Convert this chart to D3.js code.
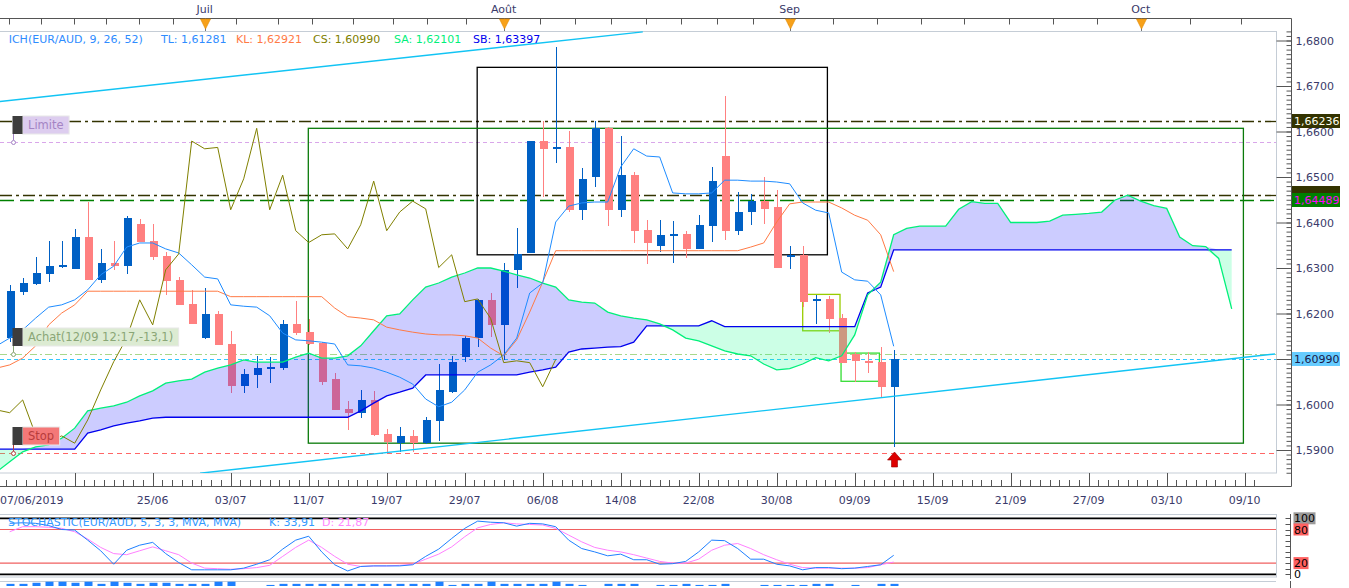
<!DOCTYPE html>
<html>
<head>
<meta charset="utf-8">
<title>EUR/AUD Ichimoku</title>
<script src="https://cdn.jsdelivr.net/npm/d3@7"></script>
<style>
  body { margin: 0; background: #fff; overflow: hidden; }
  svg { display: block; font-family: 'DejaVu Sans', Verdana, sans-serif; font-size: 11px; }
</style>
</head>
<body>
<script>
const w = 1349;
const h = 588;

// daily candles EUR/AUD, 10/06 -> 12/09/2019
const dates = ['10/06','11/06','12/06','13/06','14/06','17/06','18/06','19/06','20/06','21/06',
  '24/06','25/06','26/06','27/06','28/06','01/07','02/07','03/07','04/07','05/07',
  '08/07','09/07','10/07','11/07','12/07','15/07','16/07','17/07','18/07','19/07',
  '22/07','23/07','24/07','25/07','26/07','29/07','30/07','31/07','01/08','02/08',
  '05/08','06/08','07/08','08/08','09/08','12/08','13/08','14/08','15/08','16/08',
  '19/08','20/08','21/08','22/08','23/08','26/08','27/08','28/08','29/08','30/08',
  '02/09','03/09','04/09','05/09','06/09','09/09','10/09','11/09','12/09'];
const open = [1.6147,1.6248,1.6265,1.6287,1.6302,1.6298,1.6368,1.6274,1.6310,1.6304,
  1.6396,1.6359,1.6326,1.6274,1.6221,1.6147,1.6200,1.6133,1.6041,1.6065,
  1.6079,1.6081,1.6177,1.6159,1.6135,1.6056,1.5991,1.5982,1.6010,1.5935,
  1.5915,1.5931,1.5915,1.5964,1.6028,1.6105,1.6146,1.6230,1.6175,1.6296,
  1.6334,1.6579,1.6562,1.6566,1.6428,1.6499,1.6607,1.6428,1.6504,1.6384,
  1.6349,1.6372,1.6375,1.6342,1.6393,1.6546,1.6382,1.6422,1.6447,1.6433,
  1.6326,1.6329,1.6228,1.6232,1.6191,1.6111,1.6096,1.6094,1.6039];
const high = [1.6263,1.6277,1.6324,1.6359,1.6359,1.6386,1.6444,1.6341,1.6359,1.6414,
  1.6408,1.6397,1.6336,1.6280,1.6252,1.6257,1.6206,1.6161,1.6078,1.6107,
  1.6104,1.6186,1.6228,1.6188,1.6138,1.6069,1.6008,1.6032,1.6030,1.5946,
  1.5950,1.5944,1.5973,1.6089,1.6107,1.6151,1.6231,1.6244,1.6312,1.6387,
  1.6580,1.6623,1.6785,1.6601,1.6520,1.6623,1.6609,1.6590,1.6510,1.6406,
  1.6406,1.6403,1.6382,1.6417,1.6523,1.6677,1.6468,1.6463,1.6499,1.6471,
  1.6349,1.6349,1.6241,1.6239,1.6200,1.6116,1.6116,1.6127,1.6120];
const low = [1.6137,1.6241,1.6263,1.6270,1.6301,1.6297,1.6273,1.6266,1.6296,1.6287,
  1.6357,1.6318,1.6241,1.6219,1.6177,1.6144,1.6131,1.6026,1.6025,1.6037,
  1.6048,1.6076,1.6153,1.6131,1.6043,1.5988,1.5944,1.5971,1.5931,1.5896,
  1.5896,1.5896,1.5913,1.5920,1.6025,1.6094,1.6127,1.6149,1.6098,1.6255,
  1.6333,1.6457,1.6531,1.6424,1.6406,1.6477,1.6393,1.6413,1.6356,1.6308,
  1.6336,1.6310,1.6323,1.6341,1.6358,1.6362,1.6373,1.6395,1.6397,1.6300,
  1.6298,1.6215,1.6178,1.6158,1.6091,1.6049,1.6069,1.6015,1.5906];
const close = [1.6249,1.6266,1.6288,1.6304,1.6307,1.6368,1.6274,1.6310,1.6304,1.6410,
  1.6358,1.6325,1.6272,1.6219,1.6177,1.6200,1.6131,1.6041,1.6067,1.6080,
  1.6082,1.6177,1.6158,1.6133,1.6049,1.5988,1.5982,1.6010,1.5933,1.5918,
  1.5931,1.5915,1.5966,1.6032,1.6094,1.6146,1.6230,1.6175,1.6296,1.6331,
  1.6579,1.6562,1.6565,1.6428,1.6496,1.6607,1.6428,1.6504,1.6382,1.6356,
  1.6373,1.6375,1.6342,1.6395,1.6491,1.6382,1.6423,1.6447,1.6430,1.6301,
  1.6329,1.6226,1.6232,1.6189,1.6092,1.6096,1.6092,1.6039,1.6099];

// ichimoku lines, first value sits one bar before 10/06
const tenkan = [1.6129,1.6146,1.6164,1.6190,1.6214,1.6219,1.6230,1.6252,1.6285,1.6304,
  1.6346,1.6355,1.6355,1.6342,1.6333,1.6307,1.6280,1.6276,1.6219,1.6216,
  1.6214,1.6195,1.6157,1.6142,1.6140,1.6137,1.6133,1.6087,1.6085,1.6080,
  1.6071,1.6060,1.6045,1.6012,1.5995,1.6005,1.6032,1.6071,1.6087,1.6109,
  1.6146,1.6245,1.6267,1.6401,1.6436,1.6443,1.6445,1.6445,1.6522,1.6562,
  1.6546,1.6544,1.6465,1.6463,1.6463,1.6465,1.6493,1.6493,1.6491,1.6491,
  1.6489,1.6485,1.6443,1.6427,1.6421,1.6291,1.6274,1.6271,1.6241,1.6128];
const kijun = [1.6080,1.6087,1.6102,1.6129,1.6175,1.6201,1.6219,1.6249,1.6249,1.6249,
  1.6249,1.6249,1.6249,1.6249,1.6249,1.6249,1.6249,1.6249,1.6237,1.6237,
  1.6237,1.6237,1.6237,1.6237,1.6237,1.6237,1.6212,1.6193,1.6190,1.6186,
  1.6170,1.6164,1.6159,1.6155,1.6153,1.6153,1.6151,1.6146,1.6124,1.6107,
  1.6142,1.6203,1.6269,1.6338,1.6338,1.6338,1.6338,1.6338,1.6338,1.6338,
  1.6338,1.6338,1.6338,1.6338,1.6338,1.6338,1.6338,1.6338,1.6346,1.6355,
  1.6401,1.6441,1.6445,1.6445,1.6445,1.6432,1.6416,1.6405,1.6373,1.6292];
// senkou spans, from one bar before 10/06 to 26 bars after 12/09
const spanA = [1.5852,1.5874,1.5896,1.5907,1.5911,1.5926,1.5948,1.5986,1.5992,1.5997,
  1.6005,1.6019,1.6030,1.6047,1.6052,1.6056,1.6071,1.6080,1.6087,1.6098,
  1.6093,1.6093,1.6093,1.6104,1.6113,1.6102,1.6102,1.6107,1.6129,1.6162,
  1.6195,1.6199,1.6230,1.6258,1.6267,1.6280,1.6289,1.6300,1.6300,1.6293,
  1.6285,1.6278,1.6267,1.6258,1.6230,1.6225,1.6223,1.6203,1.6195,1.6190,
  1.6186,1.6177,1.6164,1.6146,1.6140,1.6129,1.6118,1.6111,1.6107,1.6089,
  1.6076,1.6079,1.6089,1.6103,1.6096,1.6107,1.6153,1.6241,1.6269,1.6373,
  1.6387,1.6392,1.6392,1.6392,1.6429,1.6446,1.6442,1.6442,1.6400,1.6400,
  1.6400,1.6403,1.6416,1.6418,1.6420,1.6423,1.6449,1.6460,1.6447,1.6437,
  1.6431,1.6368,1.6349,1.6347,1.6321,1.6210];
const spanB = [1.5902,1.5902,1.5902,1.5902,1.5902,1.5902,1.5902,1.5937,1.5944,1.5953,
  1.5959,1.5964,1.5970,1.5972,1.5972,1.5972,1.5972,1.5972,1.5972,1.5972,
  1.5972,1.5972,1.5972,1.5972,1.5972,1.5972,1.5972,1.5972,1.5986,1.6003,
  1.6019,1.6027,1.6036,1.6065,1.6065,1.6065,1.6065,1.6065,1.6065,1.6065,
  1.6065,1.6071,1.6076,1.6082,1.6115,1.6122,1.6124,1.6126,1.6127,1.6137,
  1.6173,1.6173,1.6173,1.6173,1.6173,1.6184,1.6171,1.6171,1.6171,1.6171,
  1.6171,1.6171,1.6171,1.6171,1.6171,1.6171,1.6171,1.6245,1.6258,1.6340,
  1.6340,1.6340,1.6340,1.6340,1.6340,1.6340,1.6340,1.6340,1.6340,1.6340,
  1.6340,1.6340,1.6340,1.6340,1.6340,1.6340,1.6340,1.6340,1.6340,1.6340,
  1.6340,1.6340,1.6340,1.6340,1.6340,1.6340];
const lagShift = 26;

const stochK = [91,92,91,87,80,79,61,42,18,43, 52,57,37,21,8,8,8,8,11,18,
  26,45,61,68,40,17,6,14,15,15, 15,17,32,45,64,82,95,93,92,86,
  91,90,85,61,46,40,33,36,26,26, 18,19,23,40,61,60,46,27,27,18,
  15,8,12,12,10,11,14,17,33.91];
const stochD = [76,85,85,84,82,76,63,48,37,35, 42,49,42,35,20,11,10,9,10,12,
  16,32,48,61,48,32,18,14,15,15, 16,18,27,36,49,67,83,89,92,90,
  89,88,82,70,58,48,43,40,35,29, 23,20,20,27,43,52,55,46,35,26,
  18,12,11,11,11,11,12,17,21.87];
const volume = [2,2,3,4,4,3,4,2,4,3, 2,3,3,2,2,2,4,4,0,0, 1,2,2,2,2,2,2,2,2,2,
  2,2,2,4,1,2,2,4,2,2, 2,2,4,2,1,0,2,2,2,0, 1,1,2,1,1,2,0,0,1,1,
  1,1,2,2,0,1,0,2,2];

// axis labels (bar index)
const dateTicks = [-1, 5, 11, 17, 23, 29, 35, 41, 47, 53, 59, 65, 71, 77, 83, 89, 95];
const dateLabels = ['07/06/2019', '', '25/06', '03/07', '11/07', '19/07', '29/07', '06/08', '14/08',
  '22/08', '30/08', '09/09', '15/09', '21/09', '27/09', '03/10', '09/10'];
const monthTicks = [15, 38, 60, 87];
const monthLabels = ['Juil', 'Août', 'Sep', 'Oct'];
const topTicks = [-0.08, 2.41, 4.92, 7.41, 9.93, 12.53, 14.93, 17.41, 20.6, 23.25, 26.4, 29.45, 32.1,
  35.1, 37.95, 40.8, 43.45, 46.25, 48.95, 51.64, 54.4, 57.2, 59.9, 63.3, 66.7, 70.1, 73.4,
  76.9, 80.25, 83.6, 87, 90.8, 94.7];
const stochTicks = [100, 80, 20, 0];

// legend
const legendNames = ['TL', 'KL', 'CS', 'SA', 'SB'];
const legendValues = [1.61281, 1.62921, 1.60990, 1.62101, 1.63397];

// horizontal levels
const levelPrices = [1.66236, 1.6460, 1.64489, 1.6576, 1.6110, 1.6099, 1.5893];
const markerText = ['Limite', 'Achat(12/09 12:17,-13,1)', 'Stop'];
const markerPrice = [1.6576, 1.6110, 1.5893];
const tagPrices = [1.66236, 1.6460, 1.64489, 1.6099];

// drawings: boxes [from bar, to bar, top price, bottom price]
const boxFrom = [35.96, 22.97, 61, 63.95];
const boxTo = [62.9, 94.9, 63.87, 66.9];
const boxTop = [1.6741, 1.6607, 1.6242, 1.6113];
const boxBottom = [1.6329, 1.5915, 1.6162, 1.6051];
// trend lines
const trendFrom = [-0.75, 14.64];
const trendTo = [48.7, 97.33];
const trendP0 = [1.6666, 1.5849];
const trendP1 = [1.6819, 1.6111];

const svg = d3.select('body').append('svg').attr('width', w).attr('height', h);

const x = d3.scaleLinear().domain([0, 94]).range([9.7, 1231.7]);
const y = d3.scaleLinear().domain([1.59, 1.68]).range([450, 40.5]);
const ys = d3.scaleLinear().domain([0, 100]).range([574.3, 518.3]);
const yv = d3.scaleLinear().domain([0, 4]).range([0, 4.3]);

const plotR = 1276;
const axisX = 1291.5;
const fmt4 = (v) => d3.format('.4f')(v).replace('.', ',');
const fmt5 = (v) => d3.format('.5f')(v).replace('.', ',');
const px = (i) => Math.round(x(i));

const defs = svg.append('defs');
defs.append('clipPath').attr('id', 'clipMain')
  .append('rect').attr('x', 0).attr('y', 31).attr('width', plotR).attr('height', 442);
defs.append('clipPath').attr('id', 'clipStoch')
  .append('rect').attr('x', 0).attr('y', 515).attr('width', plotR).attr('height', 62);

// ---- top axis (months)
svg.append('line').attr('x1', 0).attr('x2', axisX).attr('y1', 18.5).attr('y2', 18.5).attr('stroke', '#555');
svg.selectAll('.ttick').data(topTicks).enter().append('line')
  .attr('x1', (d) => px(d) + 0.5).attr('x2', (d) => px(d) + 0.5)
  .attr('y1', 18.5).attr('y2', 24.5).attr('stroke', '#555');
svg.selectAll('.mline').data(monthTicks).enter().append('line')
  .attr('x1', (d) => px(d) + 0.5).attr('x2', (d) => px(d) + 0.5)
  .attr('y1', 18.5).attr('y2', 32).attr('stroke', '#777');
svg.selectAll('.mtri').data(monthTicks).enter().append('path')
  .attr('d', (d) => `M${px(d) - 4.5},19L${px(d) + 5.5},19L${px(d) + 0.5},29Z`)
  .attr('fill', '#f7a11a').attr('stroke', '#e08a00').attr('stroke-width', 0.6);
svg.selectAll('.mlab').data(monthLabels).enter().append('text')
  .attr('x', (d, i) => x(monthTicks[i])).attr('y', 12.5)
  .attr('text-anchor', 'middle').attr('fill', '#3a3a6a').text((d) => d);

// ---- main frame
svg.append('rect').attr('x', -1).attr('y', 31.5).attr('width', plotR + 1.5).attr('height', 441.5)
  .attr('fill', 'none').attr('stroke', '#c5cdd6');

const main = svg.append('g').attr('clip-path', 'url(#clipMain)');

// ---- horizontal levels
const levelColor = ['#333300', '#333300', '#008000', '#d9a6ea', '#a9d88c', '#33c8ff', '#ff6666'];
const levelDash = ['12,4,3,4', '12,4,3,4', '14,6', '4,3', '7,3,2,3', '4,3', '5,4'];
main.selectAll('.lvl').data(levelPrices).enter().append('line')
  .attr('x1', 0).attr('x2', plotR)
  .attr('y1', (d) => Math.round(y(d)) + 0.5).attr('y2', (d) => Math.round(y(d)) + 0.5)
  .attr('stroke', (d, i) => levelColor[i])
  .attr('stroke-dasharray', (d, i) => levelDash[i])
  .attr('stroke-width', (d, i) => i < 3 ? 1.3 : 1);

// ---- drawn boxes
const boxColor = ['#000', '#0a7a0a', '#99cc00', '#33dd33'];
main.selectAll('.box').data(boxFrom).enter().append('rect')
  .attr('x', (d) => x(d)).attr('y', (d, i) => y(boxTop[i]))
  .attr('width', (d, i) => x(boxTo[i]) - x(d))
  .attr('height', (d, i) => y(boxBottom[i]) - y(boxTop[i]))
  .attr('fill', 'none').attr('stroke', (d, i) => boxColor[i]).attr('stroke-width', 1.3);

// ---- candles
const up = (i) => close[i] >= open[i];
const candleCol = (i) => up(i) ? '#0060c4' : '#ff8080';
const cg = main.append('g').attr('shape-rendering', 'crispEdges');
cg.selectAll('.wick').data(dates).enter().append('line')
  .attr('x1', (d, i) => px(i) + 0.5).attr('x2', (d, i) => px(i) + 0.5)
  .attr('y1', (d, i) => y(high[i])).attr('y2', (d, i) => y(low[i]))
  .attr('stroke', (d, i) => candleCol(i));
cg.selectAll('.body').data(dates).enter().append('rect')
  .attr('x', (d, i) => px(i) - 3.5)
  .attr('y', (d, i) => y(Math.max(open[i], close[i])))
  .attr('width', 8)
  .attr('height', (d, i) => Math.max(2, Math.abs(y(open[i]) - y(close[i]))))
  .attr('fill', (d, i) => candleCol(i));

// ---- kumo (drawn over the candles, translucent)
const kumoIdx = d3.range(-1, spanA.length - 1);
main.append('path').datum(kumoIdx)
  .attr('d', d3.area().x((i) => x(i)).y0((i) => y(spanB[i + 1]))
    .y1((i) => y(Math.max(spanA[i + 1], spanB[i + 1]))))
  .attr('fill', 'rgba(0,0,255,0.2)');
main.append('path').datum(kumoIdx)
  .attr('d', d3.area().x((i) => x(i)).y0((i) => y(spanB[i + 1]))
    .y1((i) => y(Math.min(spanA[i + 1], spanB[i + 1]))))
  .attr('fill', 'rgba(0,255,128,0.2)');

const lineOf = (arr, start) => d3.line().x((d, i) => x(i + start)).y((d) => y(d))(arr);
main.append('path').attr('d', lineOf(spanB, -1)).attr('fill', 'none').attr('stroke', '#0000ee').attr('stroke-width', 1.3);
main.append('path').attr('d', lineOf(spanA, -1)).attr('fill', 'none').attr('stroke', '#00f07a').attr('stroke-width', 1.3);
main.append('path').attr('d', lineOf(kijun, -1)).attr('fill', 'none').attr('stroke', '#ff7a45').attr('stroke-width', 1);
main.append('path').attr('d', lineOf(tenkan, -1)).attr('fill', 'none').attr('stroke', '#1e8cff').attr('stroke-width', 1);
// chikou: closes drawn 26 bars back
const lagIdx = d3.range(lagShift - 1, close.length);
main.append('path').datum(lagIdx)
  .attr('d', d3.line().x((i) => x(i - lagShift)).y((i) => y(close[i])))
  .attr('fill', 'none').attr('stroke', '#808000').attr('stroke-width', 1);

// ---- trend lines
main.selectAll('.trend').data(trendFrom).enter().append('line')
  .attr('x1', (d) => x(d)).attr('y1', (d, i) => y(trendP0[i]))
  .attr('x2', (d, i) => x(trendTo[i])).attr('y2', (d, i) => y(trendP1[i]))
  .attr('stroke', '#12c4f4').attr('stroke-width', 1.4);

// ---- order markers
const markerFill = ['#ddcdef', '#dcebd2', '#f47878'];
const markerInk = ['#a484c4', '#8aa676', '#b83c3c'];
markerText.forEach((t, k) => {
  const yy = Math.round(y(markerPrice[k]));
  const g = main.append('g');
  g.append('line').attr('x1', 13.5).attr('x2', 13.5).attr('y1', yy - 8).attr('y2', yy - 2)
    .attr('stroke', markerInk[k]);
  g.append('circle').attr('cx', 13.5).attr('cy', yy + 0.5).attr('r', 2)
    .attr('fill', '#fff').attr('stroke', markerInk[k]);
  const bx = g.append('rect').attr('x', 22.5).attr('y', yy - 26).attr('height', 18)
    .attr('fill', markerFill[k]).attr('stroke', '#e8e8e8');
  g.append('rect').attr('x', 12.5).attr('y', yy - 26).attr('width', 10).attr('height', 18)
    .attr('fill', '#3d3d3d');
  const txt = g.append('text').attr('x', 28).attr('y', yy - 13)
    .attr('fill', markerInk[k]).attr('font-size', 11.5).text(t);
  bx.attr('width', txt.node().getComputedTextLength() + 11);
});

// buy arrow under the last bar
const last = close.length - 1;
main.append('path')
  .attr('d', `M${px(last) + 0.5},452L${px(last) + 7.5},460L${px(last) + 3.5},460L${px(last) + 3.5},467L${px(last) - 2.5},467L${px(last) - 2.5},460L${px(last) - 6.5},460Z`)
  .attr('fill', '#dd0000').attr('stroke', '#990000').attr('stroke-width', 0.6);

// ---- legend
svg.append('text').attr('x', 8.7).attr('y', 43).attr('fill', '#2e8cff').text('ICH(EUR/AUD, 9, 26, 52)');
const legendX = [161, 236, 313, 394, 473];
const legendCol = ['#2e8cff', '#ff7a45', '#808000', '#00f07a', '#0000ee'];
svg.selectAll('.leg').data(legendNames).enter().append('text')
  .attr('x', (d, i) => legendX[i]).attr('y', 43).attr('fill', (d, i) => legendCol[i])
  .text((d, i) => d + ': ' + fmt5(legendValues[i]));

// ---- right price axis
svg.append('line').attr('x1', axisX).attr('x2', axisX).attr('y1', 18.5).attr('y2', 486.5).attr('stroke', '#555');
const yMinor = svg.append('g').attr('transform', `translate(${axisX},0)`)
  .call(d3.axisRight(y).tickValues(d3.range(15850, 16825, 10).map((v) => v / 10000))
    .tickSizeInner(-5).tickSizeOuter(0).tickFormat(''));
const yMajor = svg.append('g').attr('transform', `translate(${axisX},0)`)
  .call(d3.axisRight(y).tickValues(d3.range(15900, 16801, 100).map((v) => v / 10000))
    .tickSizeInner(-15).tickSizeOuter(0).tickPadding(4).tickFormat(fmt4));
[yMinor, yMajor].forEach((g) => {
  g.select('.domain').remove();
  g.selectAll('line').attr('stroke', '#555');
});
yMajor.selectAll('text').attr('fill', '#3a3a6a').attr('font-size', 11)
  .attr('font-family', "'DejaVu Sans', Verdana, sans-serif");
// a price tag hides the tick label underneath it
yMajor.selectAll('.tick').filter((d) => tagPrices.some((p) => Math.abs(y(p) - y(d)) < 9))
  .select('text').remove();

const tagFill = ['#333300', '#333300', '#008000', '#66ccff'];
const tagInk = ['#fffff0', null, '#ff00ff', '#1a1a4a'];
const tagDy = [0, -2, 0, 0];
tagPrices.forEach((p, k) => {
  const yy = Math.round(y(p)) + tagDy[k];
  svg.append('rect').attr('x', 1292).attr('y', yy - 7).attr('width', 48).attr('height', 14)
    .attr('fill', tagFill[k]);
  if (tagInk[k]) {
    svg.append('text').attr('x', 1294).attr('y', yy + 4).attr('fill', tagInk[k]).text(fmt5(p));
  }
});

// ---- date axis
svg.append('line').attr('x1', 0).attr('x2', axisX).attr('y1', 486.5).attr('y2', 486.5).attr('stroke', '#555');
svg.selectAll('.dminor').data(d3.range(-1, 96, 0.75)).enter().append('line')
  .attr('x1', (d) => px(d) + 0.5).attr('x2', (d) => px(d) + 0.5)
  .attr('y1', 480).attr('y2', 486).attr('stroke', '#555');
svg.selectAll('.dmajor').data(dateTicks).enter().append('line')
  .attr('x1', (d) => px(d) + 0.5).attr('x2', (d) => px(d) + 0.5)
  .attr('y1', 473).attr('y2', 486).attr('stroke', '#555');
svg.selectAll('.dlab').data(dateLabels).enter().append('text')
  .attr('x', (d, i) => i === 0 ? 0 : x(dateTicks[i]))
  .attr('y', 504)
  .attr('text-anchor', (d, i) => i === 0 ? 'start' : 'middle')
  .attr('fill', '#3a3a6a').text((d) => d);

// ---- stochastic panel
svg.append('rect').attr('x', -1).attr('y', 514.5).attr('width', plotR + 1.5).attr('height', 62.5)
  .attr('fill', 'none').attr('stroke', '#c5cdd6');
const st = svg.append('g').attr('clip-path', 'url(#clipStoch)');
st.selectAll('.sl').data(stochTicks).enter().append('line')
  .attr('x1', 0).attr('x2', plotR)
  .attr('y1', (d) => ys(d)).attr('y2', (d) => ys(d))
  .attr('stroke', (d) => (d === 100 || d === 0) ? '#000' : '#f06060')
  .attr('stroke-width', (d) => (d === 100 || d === 0) ? 1.8 : 1.2);
st.append('path').datum(stochD)
  .attr('d', d3.line().x((d, i) => x(i)).y((d) => ys(d)))
  .attr('fill', 'none').attr('stroke', '#ff80ff').attr('stroke-width', 1);
st.append('path').datum(stochK)
  .attr('d', d3.line().x((d, i) => x(i)).y((d) => ys(d)))
  .attr('fill', 'none').attr('stroke', '#1e80ff').attr('stroke-width', 1);

svg.append('text').attr('x', 8).attr('y', 526).attr('fill', '#3399ff').text('STOCHASTIC(EUR/AUD, 5, 3, 3, MVA, MVA)');
svg.append('text').attr('x', 269).attr('y', 526).attr('fill', '#3399ff').text('K: ' + d3.format('.2f')(stochK[last]).replace('.', ','));
svg.append('text').attr('x', 322).attr('y', 526).attr('fill', '#ff88ff').text('D: ' + d3.format('.2f')(stochD[last]).replace('.', ','));

svg.append('line').attr('x1', axisX - 1).attr('x2', axisX - 1).attr('y1', 514).attr('y2', 579).attr('stroke', '#555');
svg.selectAll('.stk').data(d3.range(0, 101, 10)).enter().append('line')
  .attr('x1', axisX - 6).attr('x2', axisX - 1)
  .attr('y1', (d) => Math.round(ys(d)) + 0.5).attr('y2', (d) => Math.round(ys(d)) + 0.5)
  .attr('stroke', '#555');
const stTagFill = ['#9a9a9a', '#ff6060', '#ff6060', 'none'];
stochTicks.forEach((v, k) => {
  const yy = ys(v);
  const t = svg.append('text').attr('x', 1294).attr('y', yy + 4).attr('fill', '#000').text(v);
  const bw = t.node().getComputedTextLength();
  svg.insert('rect', 'text').attr('x', 1293.5).attr('y', yy - 6).attr('width', bw + 1).attr('height', 12)
    .attr('fill', stTagFill[k]);
});

// ---- volume strip
svg.append('line').attr('x1', 0).attr('x2', plotR).attr('y1', 581.5).attr('y2', 581.5).attr('stroke', '#c5cdd6');
svg.append('line').attr('x1', axisX - 1).attr('x2', axisX - 1).attr('y1', 581).attr('y2', 588).attr('stroke', '#555');
svg.selectAll('.vol').data(volume).enter().append('rect')
  .attr('x', (d, i) => px(i) - 3.5).attr('y', (d) => 586 - yv(d))
  .attr('width', 8).attr('height', (d) => yv(d))
  .attr('fill', '#1e80ff');
</script>
</body>
</html>
